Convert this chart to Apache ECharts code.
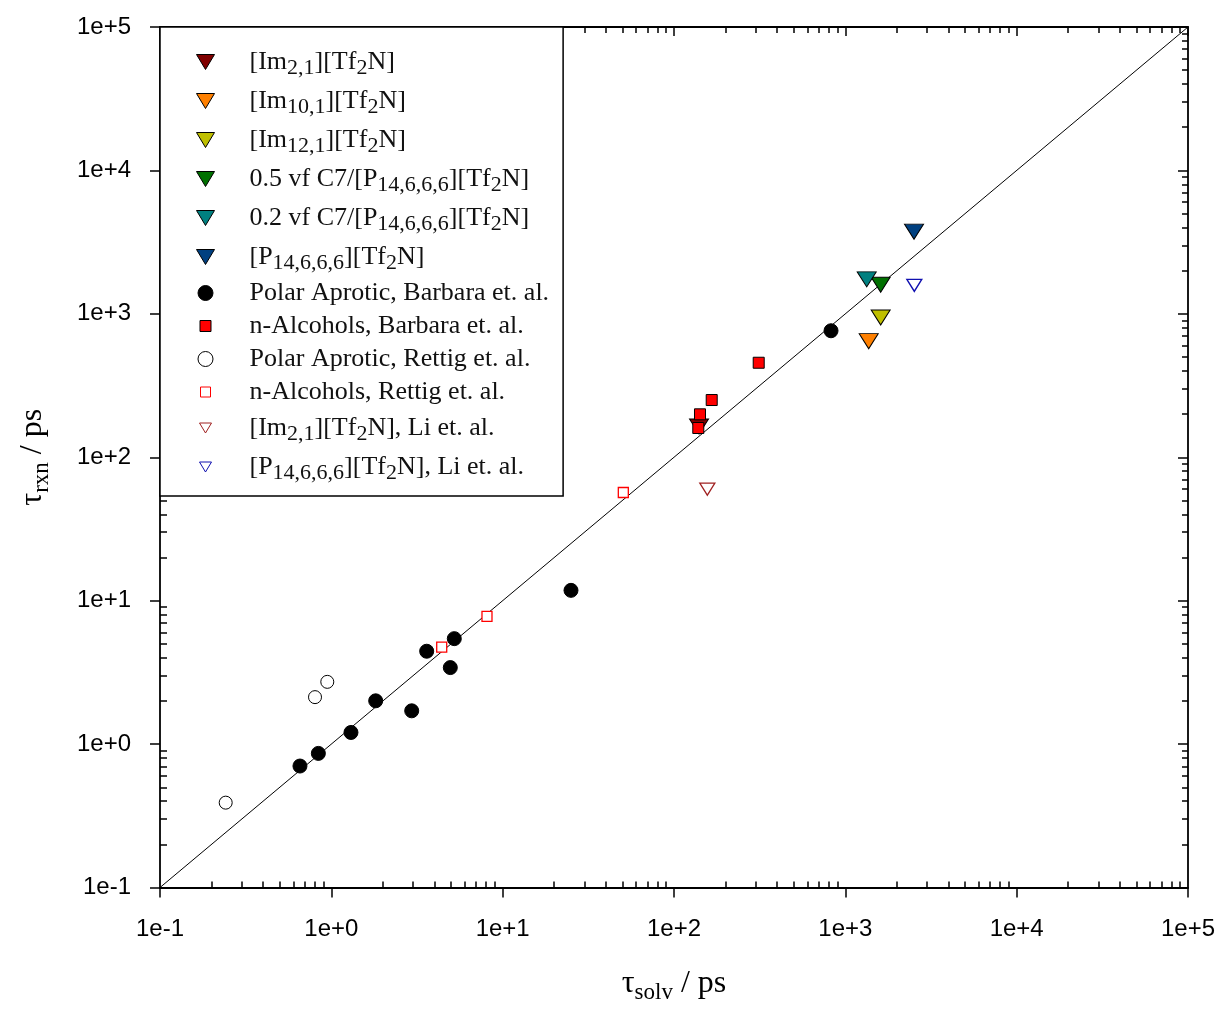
<!DOCTYPE html>
<html><head><meta charset="utf-8">
<script src="https://cdn.jsdelivr.net/npm/echarts@6/dist/echarts.min.js"></script>
<style>html,body{margin:0;padding:0;background:#fff}#c{width:1225px;height:1009px}</style>
</head><body><div id="c"></div>
<script>
// ---- tick labels ----
const xTickLabels = ['1e-1','1e+0','1e+1','1e+2','1e+3','1e+4','1e+5'];
const yTickLabels = ['1e-1','1e+0','1e+1','1e+2','1e+3','1e+4','1e+5'];
const decades = [0.1, 1, 10, 100, 1000, 10000];
const minorMultipliers = [2,3,4,5,6,7,8,9];

// ---- series names / legend labels ----
const seriesNames = [
  '[Im2,1][Tf2N]', '[Im10,1][Tf2N]', '[Im12,1][Tf2N]',
  '0.5 vf C7/[P14,6,6,6][Tf2N]', '0.2 vf C7/[P14,6,6,6][Tf2N]', '[P14,6,6,6][Tf2N]',
  'Polar Aprotic, Barbara et. al.', 'n-Alcohols, Barbara et. al.',
  'Polar Aprotic, Rettig et. al.', 'n-Alcohols, Rettig et. al.',
  '[Im2,1][Tf2N], Li et. al.', '[P14,6,6,6][Tf2N], Li et. al.'
];
const legendRichLabels = [
  '[Im{s|2,1}][Tf{s|2}N]', '[Im{s|10,1}][Tf{s|2}N]', '[Im{s|12,1}][Tf{s|2}N]',
  '0.5 vf C7/[P{s|14,6,6,6}][Tf{s|2}N]', '0.2 vf C7/[P{s|14,6,6,6}][Tf{s|2}N]', '[P{s|14,6,6,6}][Tf{s|2}N]',
  'Polar Aprotic, Barbara et. al.', 'n-Alcohols, Barbara et. al.',
  'Polar Aprotic, Rettig et. al.', 'n-Alcohols, Rettig et. al.',
  '[Im{s|2,1}][Tf{s|2}N], Li et. al.', '[P{s|14,6,6,6}][Tf{s|2}N], Li et. al.'
];

// ---- data (tau_solv, tau_rxn) in ps ----
const im21_x = [140],   im21_y = [164];
const im101_x = [1369], im101_y = [645];
const im121_x = [1608], im121_y = [943];
const vf05_x = [1608],  vf05_y = [1595];
const vf02_x = [1333],  vf02_y = [1739];
const p14_x = [2517],   p14_y = [3741];
const paBarbara_x = [0.656, 0.840, 1.302, 1.815, 2.945, 3.602, 4.948, 5.22, 25.05, 825];
const paBarbara_y = [0.703, 0.861, 1.205, 2.003, 1.706, 4.44, 3.415, 5.435, 11.8, 762];
const naBarbara_x = [138.6, 141.8, 166, 312.2];
const naBarbara_y = [159.9, 199.2, 250.6, 456];
const paRettig_x = [0.2418, 0.803, 0.947];
const paRettig_y = [0.3905, 2.125, 2.716];
const naRettig_x = [4.408, 8.10, 50.6];
const naRettig_y = [4.736, 7.78, 56.8];
const im21Li_x = [156.5], im21Li_y = [59.9];
const p14Li_x = [2527],   p14Li_y = [1580];
const diagonal_x = [0.1, 100000], diagonal_y = [0.1, 100000];

const seriesX = [im21_x, im101_x, im121_x, vf05_x, vf02_x, p14_x, paBarbara_x, naBarbara_x, paRettig_x, naRettig_x, im21Li_x, p14Li_x];
const seriesY = [im21_y, im101_y, im121_y, vf05_y, vf02_y, p14_y, paBarbara_y, naBarbara_y, paRettig_y, naRettig_y, im21Li_y, p14Li_y];

// ---- styles ----
const TRI = 'path://M0,0L18,0L9,15Z';
const TRI_OPEN = 'path://M0,0M18,15M3,2.5L15,2.5L9,12.5Z';
const SQ = 'path://M0,0M15,15M2,2L13,2L13,13L2,13Z';
const SQ_OPEN = 'path://M0,0M15,15M2.5,2.5L12.5,2.5L12.5,12.5L2.5,12.5Z';
const styles = [
  {symbol: TRI, size: [19,15], fill: '#800000', stroke: '#000', bw: 1},
  {symbol: TRI, size: [19,15], fill: '#FF8000', stroke: '#000', bw: 1},
  {symbol: TRI, size: [19,15], fill: '#BFBF00', stroke: '#000', bw: 1},
  {symbol: TRI, size: [19,15], fill: '#007000', stroke: '#000', bw: 1},
  {symbol: TRI, size: [19,15], fill: '#008080', stroke: '#000', bw: 1},
  {symbol: TRI, size: [19,15], fill: '#004080', stroke: '#000', bw: 1},
  {symbol: 'circle', size: 14, fill: '#000', stroke: '#000', bw: 1},
  {symbol: SQ, size: 15, fill: '#FF0000', stroke: '#000', bw: 1},
  {symbol: 'circle', size: 13, fill: '#fff', stroke: '#000', bw: 1},
  {symbol: SQ_OPEN, size: 15, fill: '#fff', stroke: '#FF0000', bw: 1.3},
  {symbol: TRI_OPEN, size: [22.5,18], fill: '#fff', stroke: '#A02020', bw: 1.3},
  {symbol: TRI_OPEN, size: [22.5,18], fill: '#fff', stroke: '#1010B0', bw: 1.3}
];

const minorVals = [];
decades.forEach(d => minorMultipliers.forEach(m => minorVals.push(+(d*m).toPrecision(6))));

const chart = echarts.init(document.getElementById('c'), null, {renderer: 'canvas'});
const AX = '#000';
function baseAxis(pos) {
  return {
    type: 'log', logBase: 10, min: 0.1, max: 100000, position: pos,
    splitLine: {show: false}, minorSplitLine: {show: false}, minorTick: {show: false},
    axisLabel: {show: false},
    axisLine: {show: true, onZero: false, lineStyle: {color: AX, width: 1.8}},
    axisTick: {show: false}
  };
}
const nameRich = {
  t: {fontFamily: 'Liberation Serif', fontSize: 32, color: '#000', lineHeight: 34},
  s: {fontFamily: 'Liberation Serif', fontSize: 23, color: '#000', lineHeight: 22, padding: [18,0,0,0]}
};
const labelFmt = arr => v => arr[Math.round(Math.log10(v)) + 1];

const xAxes = [
  Object.assign(baseAxis('bottom'), {
    axisLabel: {show: true, showMinLabel: true, showMaxLabel: true, fontFamily: 'Liberation Sans', fontSize: 24, color: '#000', margin: 30, formatter: labelFmt(xTickLabels)},
    axisTick: {show: true, inside: false, length: 10, lineStyle: {color: AX, width: 1.5}},
    name: '{t|τ}{s|solv}{t| / ps}', nameLocation: 'middle', nameGap: 79,
    nameTextStyle: {rich: nameRich}
  }),
  Object.assign(baseAxis('bottom'), {axisLine: {show: false, onZero: false}, axisTick: {show: true, inside: true, length: 6, customValues: minorVals, lineStyle: {color: AX, width: 1.5}}}),
  Object.assign(baseAxis('top'), {axisTick: {show: true, inside: true, length: 9, lineStyle: {color: AX, width: 1.5}}}),
  Object.assign(baseAxis('top'), {axisLine: {show: false, onZero: false}, axisTick: {show: true, inside: true, length: 6, customValues: minorVals, lineStyle: {color: AX, width: 1.5}}})
];
const yAxes = [
  Object.assign(baseAxis('left'), {
    axisLabel: {show: true, showMinLabel: true, showMaxLabel: true, fontFamily: 'Liberation Sans', fontSize: 24, color: '#000', margin: 29, formatter: labelFmt(yTickLabels)},
    axisTick: {show: true, inside: false, length: 10, lineStyle: {color: AX, width: 1.5}},
    name: '{t|τ}{s|rxn}{t| / ps}', nameLocation: 'middle', nameGap: 110,
    nameTextStyle: {rich: nameRich}
  }),
  Object.assign(baseAxis('left'), {axisLine: {show: false, onZero: false}, axisTick: {show: true, inside: true, length: 7, customValues: minorVals, lineStyle: {color: AX, width: 1.5}}}),
  Object.assign(baseAxis('right'), {axisTick: {show: true, inside: true, length: 10, lineStyle: {color: AX, width: 1.5}}}),
  Object.assign(baseAxis('right'), {axisLine: {show: false, onZero: false}, axisTick: {show: true, inside: true, length: 6, customValues: minorVals, lineStyle: {color: AX, width: 1.5}}})
];

const series = [{
  type: 'line', name: 'diag', xAxisIndex: 0, yAxisIndex: 0, silent: true, symbol: 'none', z: 1,
  data: diagonal_x.map((x, i) => [x, diagonal_y[i]]),
  lineStyle: {color: '#000', width: 1}
}];
seriesNames.forEach((nm, k) => {
  const st = styles[k];
  series.push({
    type: 'scatter', name: nm, xAxisIndex: 0, yAxisIndex: 0, z: 3,
    symbol: st.symbol, symbolSize: st.size, symbolKeepAspect: false,
    itemStyle: {color: st.fill, borderColor: st.stroke, borderWidth: st.bw, opacity: 1},
    emphasis: {disabled: true},
    data: seriesX[k].map((x, i) => [x, seriesY[k][i]])
  });
});

chart.setOption({
  animation: false,
  backgroundColor: '#fff',
  grid: {left: 160, right: 37, top: 27, bottom: 120, containLabel: false},
  xAxis: xAxes,
  yAxis: yAxes,
  legend: {
    orient: 'vertical', left: 160, top: 27,
    data: seriesNames,
    itemWidth: 18, itemHeight: 15, itemGap: 5,
    symbolKeepAspect: true,
    padding: [18, 14, 12, 36],
    borderColor: '#000', borderWidth: 1.5, backgroundColor: '#fff',
    selectedMode: false,
    itemStyle: {borderWidth: 1},
    formatter: name => legendRichLabels[seriesNames.indexOf(name)],
    textStyle: {
      fontFamily: 'Liberation Serif', fontSize: 26, color: '#111', lineHeight: 28,
      padding: [0, 0, 0, 30],
      rich: {s: {fontFamily: 'Liberation Serif', fontSize: 22, color: '#111', lineHeight: 20, padding: [12, 0, 0, 0]}}
    }
  },
  series: series
});
</script></body></html>
